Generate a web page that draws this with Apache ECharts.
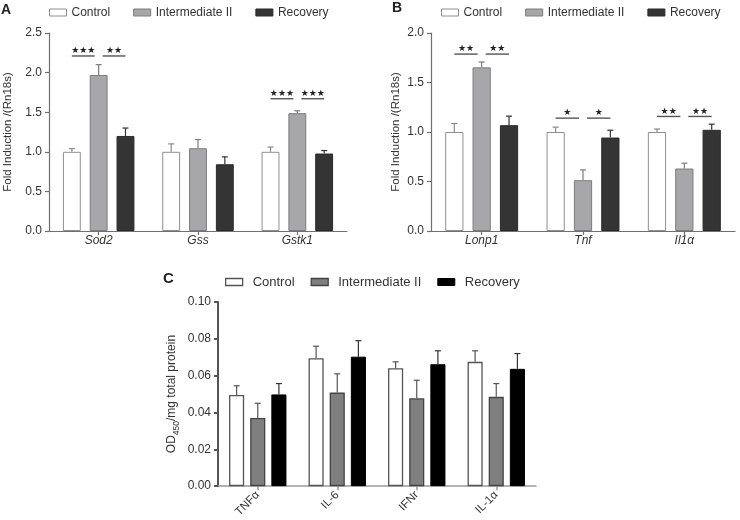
<!DOCTYPE html>
<html><head><meta charset="utf-8">
<script src="https://cdn.jsdelivr.net/npm/echarts@6/dist/echarts.min.js"></script>
<style>html,body{margin:0;padding:0;background:#fff}#c{width:740px;height:520px}</style>
</head><body><div id="c"></div>
<script>
// ---------- data ----------
const seriesNames = ['Control', 'Intermediate II', 'Recovery'];

// Panel A
const catsA = ['Sod2', 'Gss', 'Gstk1'];
const controlA = [1.00, 1.00, 1.00];
const controlErrA = [0.04, 0.10, 0.06];
const interA = [1.97, 1.045, 1.488];
const interErrA = [0.13, 0.11, 0.03];
const recoveryA = [1.20, 0.843, 0.978];
const recoveryErrA = [0.10, 0.093, 0.038];
const yTicksA = [0, 0.5, 1.0, 1.5, 2.0, 2.5];
// [category, height, from group, to group, label]
const sigA = [[0, 2.21, 0, 1, '***'], [0, 2.21, 1, 2, '**'], [2, 1.67, 0, 1, '***'], [2, 1.67, 1, 2, '***']];

// Panel B
const catsB = ['Lonp1', 'Tnf', 'Il1α'];
const controlB = [1.00, 1.00, 1.00];
const controlErrB = [0.086, 0.049, 0.03];
const interB = [1.653, 0.513, 0.631];
const interErrB = [0.054, 0.104, 0.054];
const recoveryB = [1.069, 0.944, 1.022];
const recoveryErrB = [0.091, 0.074, 0.057];
const yTicksB = [0, 0.5, 1.0, 1.5, 2.0];
const sigB = [[0, 1.787, 0, 1, '**'], [0, 1.787, 1, 2, '**'], [1, 1.14, 0, 1, '*'], [1, 1.14, 1, 2, '*'], [2, 1.157, 0, 1, '**'], [2, 1.157, 1, 2, '**']];

// Panel C
const catsC = ['TNFα', 'IL-6', 'IFNr', 'IL-1α'];
const controlC = [0.0495, 0.0695, 0.064, 0.0675];
const controlErrC = [0.005, 0.0065, 0.0035, 0.006];
const interC = [0.037, 0.0508, 0.0477, 0.0485];
const interErrC = [0.008, 0.0102, 0.0098, 0.0072];
const recoveryC = [0.0498, 0.0703, 0.0662, 0.0637];
const recoveryErrC = [0.0059, 0.0087, 0.0073, 0.0083];
const yTicksC = [0, 0.02, 0.04, 0.06, 0.08, 0.10];

// ---------- styles ----------
const FONT = 'Liberation Sans';
const TXT = '#333';
const styleAB = [
  {color: '#ffffff', borderColor: '#8f8f8f', borderWidth: 1},
  {color: '#a7a7a9', borderColor: '#7c7c7c', borderWidth: 1},
  {color: '#343434', borderColor: '#2a2a2a', borderWidth: 1}
];
const errColAB = ['#8a8a8a', '#7c7c7c', '#333333'];
const styleC = [
  {color: '#ffffff', borderColor: '#555555', borderWidth: 1.3},
  {color: '#7f7f7f', borderColor: '#444444', borderWidth: 1.3},
  {color: '#000000', borderColor: '#000000', borderWidth: 1}
];
const errColC = ['#555555', '#555555', '#333333'];

const barAB = {width: 0.18, gap: 0.5};
const barC = {width: 0.19, gap: 0.4};

function errRender(bar, colors) {
  const off = bar.width * (1 + bar.gap);
  return function (params, api) {
    const cat = api.value(0), v = api.value(1), e = api.value(2), pos = api.value(3);
    const band = api.size([1, 0])[0];
    const b = api.coord([cat, v]);
    const t = api.coord([cat, v + e]);
    const x = b[0] + (pos - 1) * off * band;
    const st = {stroke: colors[pos], lineWidth: 1.2};
    return {type: 'group', children: [
      {type: 'line', shape: {x1: x, y1: b[1], x2: x, y2: t[1]}, style: st},
      {type: 'line', shape: {x1: x - 3, y1: t[1], x2: x + 3, y2: t[1]}, style: st}
    ]};
  };
}
function sigRender(bar, sig) {
  const off = bar.width * (1 + bar.gap);
  return function (params, api) {
    const s = sig[params.dataIndex];
    const band = api.size([1, 0])[0];
    const p = api.coord([s[0], s[1]]);
    let x1 = p[0] + (s[2] - 1) * off * band;
    let x2 = p[0] + (s[3] - 1) * off * band;
    if (s[2] === 1) x1 += 4;
    if (s[3] === 1) x2 -= 4;
    return {type: 'group', children: [
      {type: 'line', shape: {x1: x1, y1: p[1], x2: x2, y2: p[1]}, style: {stroke: '#555', lineWidth: 1.4}},
      {type: 'text', x: (x1 + x2) / 2, y: p[1] - 0.5, style: {
        text: s[4].replace(/\*/g, '★'), fill: '#222', font: '9px "DejaVu Sans"',
        align: 'center', verticalAlign: 'bottom'}}
    ]};
  };
}

function errData(vals, errs) {
  const out = [];
  vals.forEach((arr, i) => arr.forEach((v, j) => out.push([j, v, errs[i][j], i])));
  return out;
}

function panel(idx, cats, vals, errs, sig, styles, errCols, bar) {
  const s = vals.map((arr, i) => ({
    type: 'bar', name: seriesNames[i], xAxisIndex: idx, yAxisIndex: idx,
    data: arr, barWidth: (bar.width * 100) + '%', barGap: (bar.gap * 100) + '%',
    itemStyle: styles[i], emphasis: {disabled: true}, z: 2
  }));
  s.push({type: 'custom', xAxisIndex: idx, yAxisIndex: idx, renderItem: errRender(bar, errCols),
    data: errData(vals, errs), encode: {x: 0, y: 1}, z: 3, silent: true});
  if (sig) s.push({type: 'custom', xAxisIndex: idx, yAxisIndex: idx, renderItem: sigRender(bar, sig),
    data: sig.map(r => [r[0], r[1]]), encode: {x: 0, y: 1}, z: 4, silent: true});
  return s;
}

function legendFor(left, top, styles, fontSize, itemGap, textPad) {
  return {
    left: left, top: top, padding: 0, itemGap: itemGap, itemWidth: 17, itemHeight: 7, icon: 'rect',
    selectedMode: false,
    textStyle: {fontFamily: FONT, fontSize: fontSize, color: TXT, padding: [0, 0, 0, textPad]},
    data: seriesNames.map((n, i) => ({name: n, itemStyle: styles[i]}))
  };
}

function yAxisFor(idx, ticks, name, gap, dec, lineStyle, nameStyle) {
  return {
    type: 'value', gridIndex: idx, min: ticks[0], max: ticks[ticks.length - 1],
    interval: ticks[1] - ticks[0], name: name, nameLocation: 'middle', nameGap: gap,
    nameTextStyle: nameStyle,
    axisLine: {show: true, lineStyle: lineStyle},
    axisTick: {show: true, length: 4, lineStyle: lineStyle},
    axisLabel: {fontFamily: FONT, fontSize: 12, color: TXT, margin: 7, formatter: v => v.toFixed(dec)},
    splitLine: {show: false}
  };
}
function xAxisFor(idx, cats, lineStyle, label) {
  return {
    type: 'category', gridIndex: idx, data: cats, boundaryGap: true,
    axisLine: {show: true, lineStyle: lineStyle},
    axisTick: {show: true, alignWithLabel: true, length: 4, lineStyle: lineStyle},
    axisLabel: label
  };
}

const lineAB = {color: '#707070', width: 1.2};
const nameAB = {fontFamily: FONT, fontSize: 11.5, color: TXT};

const option = {
  backgroundColor: '#fff',
  animation: false,
  title: [
    {text: 'A', left: 1, top: 3, padding: 0, textStyle: {fontFamily: FONT, fontSize: 14, fontWeight: 'bold', color: '#222'}},
    {text: 'B', left: 392, top: 1, padding: 0, textStyle: {fontFamily: FONT, fontSize: 14, fontWeight: 'bold', color: '#222'}},
    {text: 'C', left: 163, top: 271, padding: 0, textStyle: {fontFamily: FONT, fontSize: 15, fontWeight: 'bold', color: '#222'}}
  ],
  legend: [
    legendFor(49, 6.5, styleAB, 12, 23, 0),
    legendFor(441, 6.5, styleAB, 12, 23, 0),
    legendFor(225, 275.5, styleC, 13, 16, 5)
  ],
  grid: [
    {left: 49, right: 393, top: 33, bottom: 289},
    {left: 431, right: 5, top: 33, bottom: 289},
    {left: 218, right: 204, top: 302, bottom: 32}
  ],
  xAxis: [
    xAxisFor(0, catsA, lineAB, {fontFamily: FONT, fontSize: 12, fontStyle: 'italic', color: TXT, margin: 4}),
    xAxisFor(1, catsB, lineAB, {fontFamily: FONT, fontSize: 12, fontStyle: 'italic', color: TXT, margin: 4}),
    xAxisFor(2, catsC, {color: '#9a9a9a', width: 1.5}, {fontFamily: FONT, fontSize: 11.5, color: TXT, rotate: 45, margin: 7})
  ],
  yAxis: [
    yAxisFor(0, yTicksA, 'Fold Induction /(Rn18s)', 35, 1, lineAB, nameAB),
    yAxisFor(1, yTicksB, 'Fold Induction /(Rn18s)', 29, 1, lineAB, nameAB),
    yAxisFor(2, yTicksC, '{a|OD}{s|450}{a|/mg total protein}', 38, 2, {color: '#555', width: 2}, {
      fontFamily: FONT, color: TXT,
      rich: {
        a: {fontFamily: FONT, fontSize: 12, color: TXT, lineHeight: 14, verticalAlign: 'top'},
        s: {fontFamily: FONT, fontSize: 8.5, color: TXT, lineHeight: 9, padding: [6, 0, 0, 0], verticalAlign: 'top'}
      }
    })
  ],
  series: [].concat(
    panel(0, catsA, [controlA, interA, recoveryA], [controlErrA, interErrA, recoveryErrA], sigA, styleAB, errColAB, barAB),
    panel(1, catsB, [controlB, interB, recoveryB], [controlErrB, interErrB, recoveryErrB], sigB, styleAB, errColAB, barAB),
    panel(2, catsC, [controlC, interC, recoveryC], [controlErrC, interErrC, recoveryErrC], null, styleC, errColC, barC)
  )
};
const chart = echarts.init(document.getElementById('c'), null, {renderer: 'canvas'});
chart.setOption(option);
</script></body></html>
